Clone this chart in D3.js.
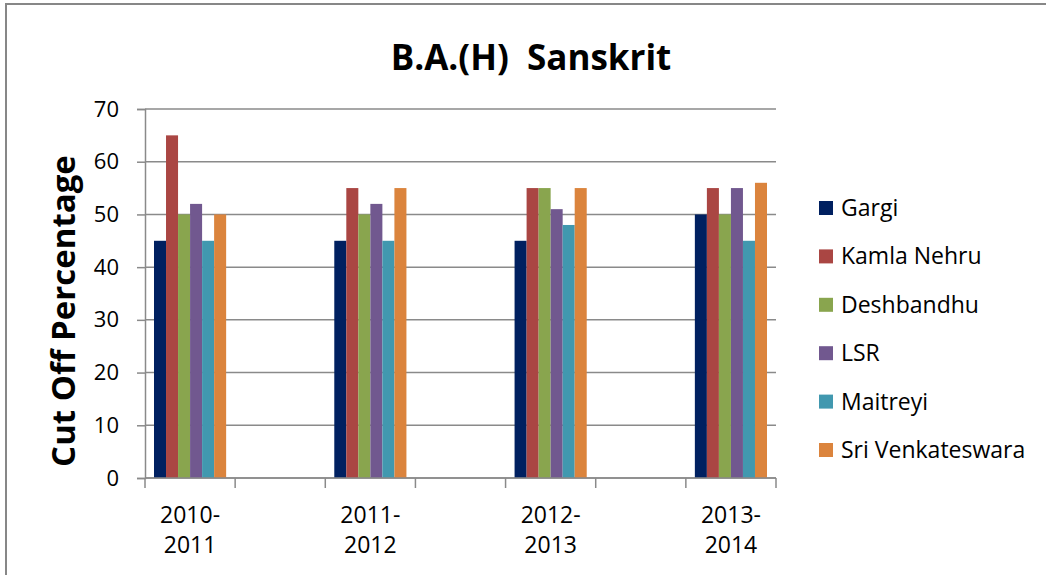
<!DOCTYPE HTML>
<html>
<head>
<meta charset="utf-8">
<title>B.A.(H) Sanskrit</title>
<script src="https://d3js.org/d3.v7.min.js"></script>
<style>
  body { margin: 0; background: #ffffff; }
  text { font-family: "Open Sans", "Noto Sans", sans-serif; fill: #000000; }
</style>
</head>

<body>
<script>

"use strict";

// blank slots sit between the years, as in the source sheet
const categories = ["2010-2011", "", "2011-2012", "", "2012-2013", "", "2013-2014"];
const colleges = ["Gargi", "Kamla Nehru", "Deshbandhu", "LSR", "Maitreyi", "Sri Venkateswara"];
const gargi = [45, null, 45, null, 45, null, 50];
const kamlaNehru = [65, null, 55, null, 55, null, 55];
const deshbandhu = [50, null, 50, null, 55, null, 50];
const lsr = [52, null, 52, null, 51, null, 55];
const maitreyi = [45, null, 45, null, 48, null, 45];
const sriVenkateswara = [50, null, 55, null, 55, null, 56];
const yTicks = [0, 10, 20, 30, 40, 50, 60, 70];

const series = [gargi, kamlaNehru, deshbandhu, lsr, maitreyi, sriVenkateswara];
const colors = ["#002060", "#AA4643", "#89A54E", "#71588F", "#4198AF", "#DB843D"];

const W = 1046, H = 575;
const plotLeft = 145, plotRight = 776, plotTop = 109, plotBottom = 478;

const svg = d3.select("body").append("svg")
  .attr("width", W)
  .attr("height", H);

// chart border
svg.append("rect")
  .attr("x", 6)
  .attr("y", 4)
  .attr("width", W + 20)
  .attr("height", H + 20)
  .attr("fill", "none")
  .attr("stroke", "#878787")
  .attr("stroke-width", 2);

const x0 = d3.scaleBand()
  .domain(d3.range(categories.length))
  .range([plotLeft, plotRight]);

const x1 = d3.scaleBand()
  .domain(d3.range(colleges.length))
  .range([9, x0.bandwidth() - 9]);

const y = d3.scaleLinear()
  .domain([0, 70])
  .range([plotBottom, plotTop]);

// gridlines
svg.append("g").selectAll("line")
  .data(yTicks)
  .enter()
  .append("line")
  .attr("x1", plotLeft)
  .attr("x2", plotRight)
  .attr("y1", (d) => y(d))
  .attr("y2", (d) => y(d))
  .attr("stroke", "#8a8a8a")
  .attr("stroke-width", 1.5);

// y axis
const yAxis = svg.append("g")
  .attr("transform", "translate(" + plotLeft + ",0)")
  .call(d3.axisLeft(y).tickValues(yTicks).tickSize(8).tickPadding(18));
yAxis.select(".domain").attr("stroke", "#8a8a8a").attr("stroke-width", 1.5);
yAxis.selectAll(".tick line").attr("stroke", "#8a8a8a").attr("stroke-width", 1.5);
yAxis.selectAll(".tick text")
  .attr("font-size", 22)
  .attr("font-family", "'Open Sans', sans-serif")
  .attr("fill", "#000");

// bars
const groups = svg.append("g").selectAll("g")
  .data(categories.map((c, i) => i))
  .enter()
  .append("g")
  .attr("transform", (i) => "translate(" + x0(i) + ",0)");

groups.selectAll("rect")
  .data((i) => series.map((s, k) => ({k: k, v: s[i]})).filter((d) => d.v !== null))
  .enter()
  .append("rect")
  .attr("x", (d) => x1(d.k))
  .attr("width", x1.bandwidth())
  .attr("y", (d) => y(d.v))
  .attr("height", (d) => y(0) - y(d.v))
  .attr("fill", (d) => colors[d.k]);

// x axis line and ticks at band edges
svg.append("line")
  .attr("x1", plotLeft)
  .attr("x2", plotRight)
  .attr("y1", plotBottom)
  .attr("y2", plotBottom)
  .attr("stroke", "#8a8a8a")
  .attr("stroke-width", 1.5);

svg.append("g").selectAll("line")
  .data(d3.range(categories.length + 1))
  .enter()
  .append("line")
  .attr("x1", (i) => plotLeft + i * x0.bandwidth())
  .attr("x2", (i) => plotLeft + i * x0.bandwidth())
  .attr("y1", plotBottom)
  .attr("y2", plotBottom + 10)
  .attr("stroke", "#8a8a8a")
  .attr("stroke-width", 1.5);

// x labels, split on the dash
const xLabels = svg.append("g").selectAll("text")
  .data(categories.map((c, i) => ({c: c, i: i})).filter((d) => d.c !== ""))
  .enter()
  .append("text")
  .attr("text-anchor", "middle")
  .attr("font-size", 23)
  .attr("transform", (d) => "translate(" + (x0(d.i) + x0.bandwidth() / 2) + ",523)");

xLabels.append("tspan")
  .attr("x", 0)
  .attr("y", 0)
  .text((d) => d.c.split("-")[0] + "-");
xLabels.append("tspan")
  .attr("x", 0)
  .attr("y", 30)
  .text((d) => d.c.split("-")[1]);

// title
svg.append("text")
  .attr("x", 531)
  .attr("y", 70)
  .attr("text-anchor", "middle")
  .attr("font-size", 35)
  .attr("font-weight", "bold")
  .style("white-space", "pre")
  .text("B.A.(H)  Sanskrit");

// y axis title
svg.append("text")
  .attr("transform", "translate(75,311) rotate(-90)")
  .attr("text-anchor", "middle")
  .attr("font-size", 33)
  .attr("font-weight", "bold")
  .text("Cut Off Percentage");

// legend
const legend = svg.append("g").selectAll("g")
  .data(colleges)
  .enter()
  .append("g")
  .attr("transform", (d, i) => "translate(819," + (208 + i * 48.4) + ")");

legend.append("rect")
  .attr("x", 0)
  .attr("y", -7)
  .attr("width", 14)
  .attr("height", 14)
  .attr("fill", (d, i) => colors[i]);

legend.append("text")
  .attr("x", 22)
  .attr("y", 8)
  .attr("font-size", 23)
  .text((d) => d);

</script>
</body>
</html>
